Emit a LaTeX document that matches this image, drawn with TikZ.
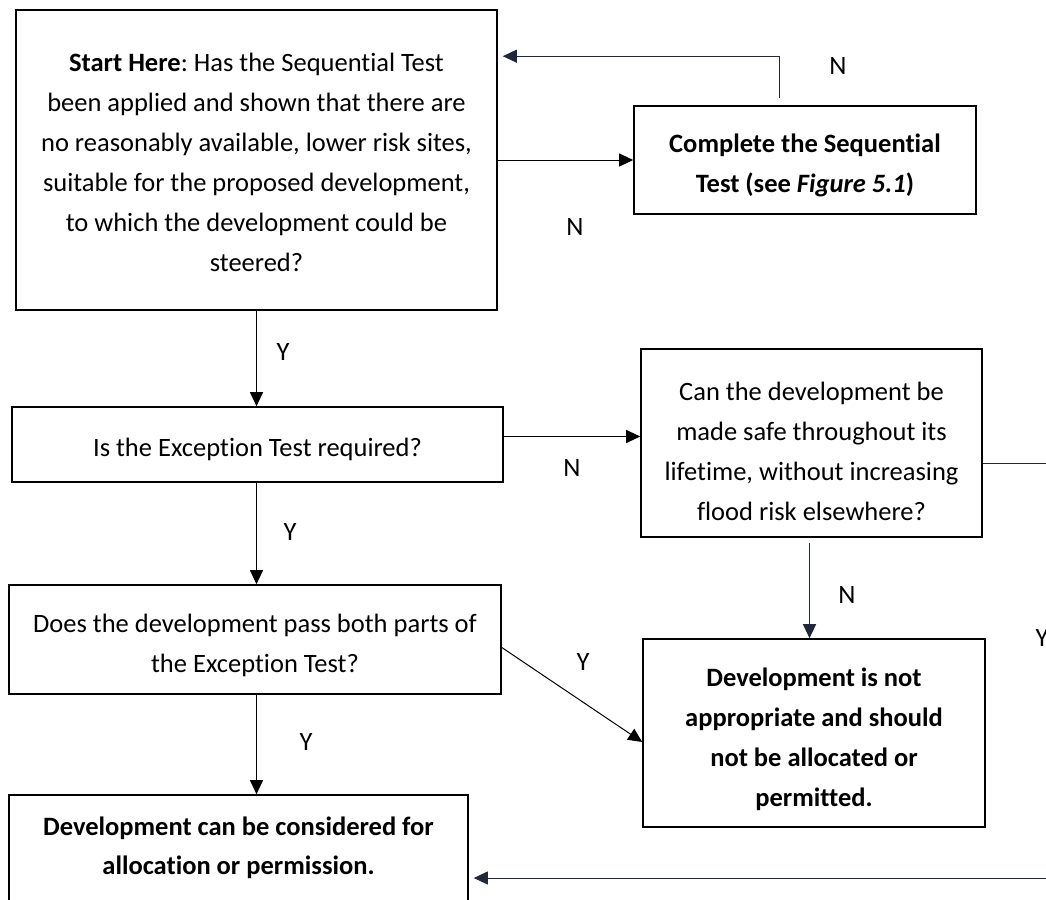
\documentclass[tikz,border=0pt]{standalone}
\usepackage{fontspec}
\setmainfont{Carlito}[Ligatures=NoCommon]
\usetikzlibrary{arrows.meta,positioning,calc}

\definecolor{navyline}{RGB}{32,40,58}
\frenchspacing
\newcommand{\lift}[1]{\rule{0pt}{#1}}

\begin{document}
\begin{tikzpicture}[x=1pt,y=-1pt,
        stage/.style={
            draw,
            line width=1.6pt,
            inner sep=0pt,
            align=center,
            font=\fontsize{26.5}{40}\selectfont
        },
        flow/.style={-{Triangle[length=14pt,width=13pt]}, line width=1pt},
        answer/.style={font=\fontsize{26.5}{30}\selectfont}
    ]
        \clip (0,0) rectangle (1046,899);

        \node[stage, minimum width=481pt, minimum height=300pt] (start) at (256.5,160)
            {\lift{24pt}\textbf{Start Here}: Has the Sequential Test\\been applied and shown that there are\\no reasonably available, lower risk sites,\\suitable for the proposed development,\\to which the development could be\\steered?};
        \node[stage, minimum width=342pt, minimum height=108pt, font=\fontsize{26.5}{40}\selectfont\bfseries] (complete) at (805,160)
            {\lift{28.5pt}Complete the Sequential\\Test (see \textit{Figure 5.1})};
        \node[stage, minimum width=491pt, minimum height=75pt] (exception) at (257.5,444.5)
            {\lift{29pt}Is the Exception Test required?};
        \node[stage, minimum width=341pt, minimum height=188pt] (safe) at (811.5,443)
            {\lift{34.5pt}Can the development be\\made safe throughout its\\lifetime, without increasing\\flood risk elsewhere?};
        \node[stage, minimum width=492pt, minimum height=109pt] (passes) at (255,639.5)
            {\lift{30.5pt}Does the development pass both parts of\\the Exception Test?};
        \node[stage, minimum width=342pt, minimum height=188pt, font=\fontsize{26.5}{40}\selectfont\bfseries] (refused) at (814,733)
            {\lift{30.5pt}Development is not\\appropriate and should\\not be allocated or\\permitted.};
        \node[stage, minimum width=459pt, minimum height=140pt, font=\fontsize{26.5}{39}\selectfont\bfseries] (allowed) at (238.5,865)
            {Development can be considered for\\allocation or permission.\\\mbox{}};

        % answers
        \node[answer] (nsteer) at (838,66) {N};
        \node[answer] (nseq) at (575,227) {N};
        \node[answer] (ystart) at (283,352) {Y};
        \node[answer] (nexc) at (572,468) {N};
        \node[answer] (yexc) at (290,532) {Y};
        \node[answer] (ypass) at (583,662) {Y};
        \node[answer] (ydown) at (306,742) {Y};
        \node[answer] (nsafe) at (847,595) {N};
        \node[answer] (ysafe) at (1042,638) {Y};

        % connectors
        \draw[flow] (start.east) -- (complete.west);
        \draw[flow, navyline]
            ([xshift=-26pt,yshift=7pt]complete.north)
            |-
            ([xshift=5pt,yshift=-47pt]start.north east);
        \draw[flow] (start.south) -- (start.south |- exception.north);
        \draw[flow] ([yshift=8pt]exception.east) -- ([yshift=8pt]exception.east -| safe.west);
        \draw[flow] (exception.south -| start.south) -- (start.south |- passes.north);
        \draw[flow] (passes.south -| start.south) -- (start.south |- allowed.north);
        \draw[flow] ([yshift=-8pt]passes.east) -- ([yshift=-9pt]refused.west);
        \draw[flow, navyline] ([xshift=-2pt,yshift=-5pt]safe.south) -- ([xshift=-2pt]safe.south |- refused.north);
        \draw[flow, navyline]
            ([yshift=-20pt]safe.east)
            -- ++(90,0)
            |-
            ([xshift=5pt,yshift=-13pt]allowed.east);
    \end{tikzpicture}
\end{document}
